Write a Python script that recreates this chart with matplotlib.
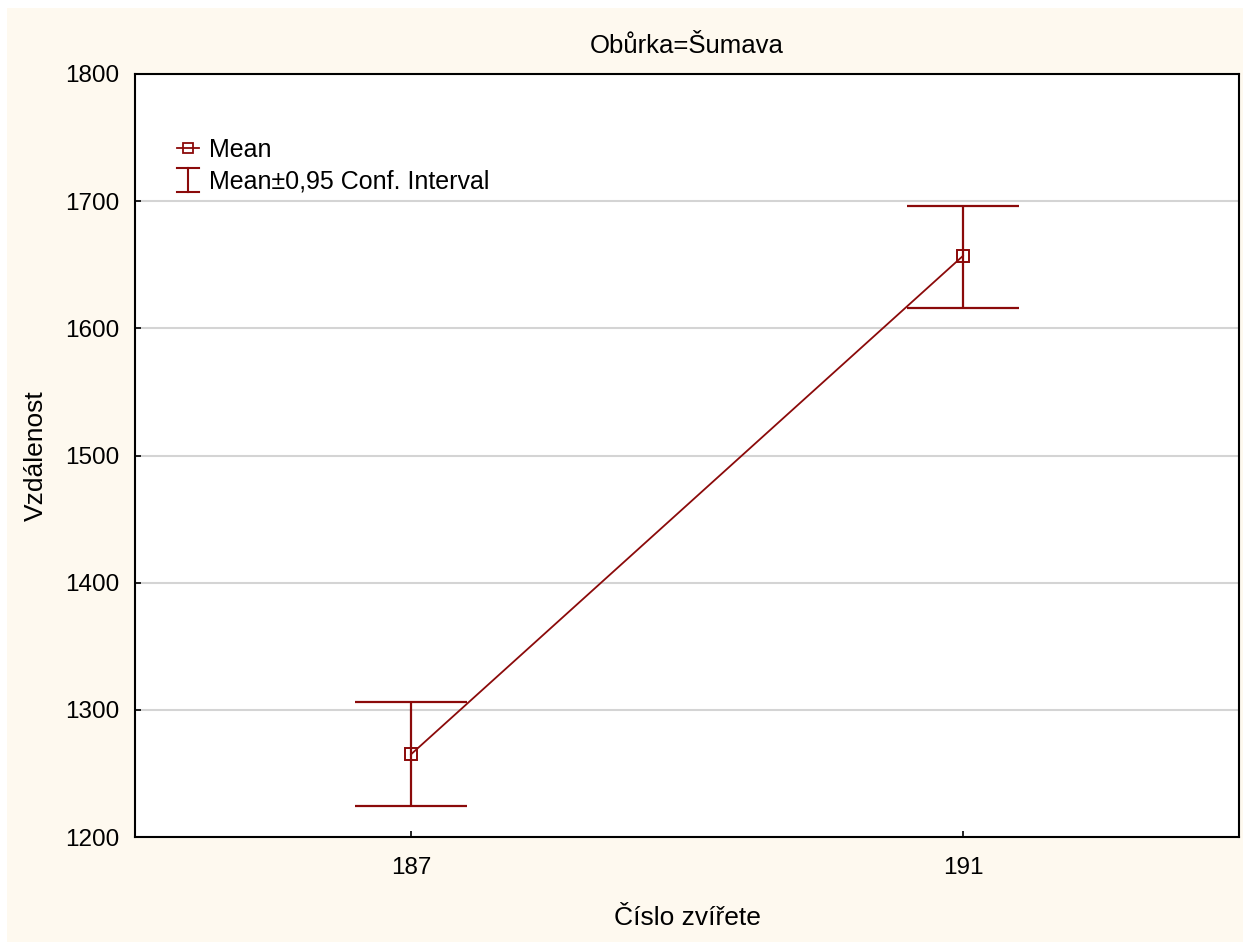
import matplotlib.pyplot as plt
from matplotlib.patches import Rectangle
from matplotlib.lines import Line2D
from matplotlib.legend_handler import HandlerBase

# data
animals = ["187", "191"]
means = [1265, 1657]
ci_low = [1224, 1616]
ci_high = [1306, 1696]

plt.rcParams['font.family'] = ['Liberation Sans', 'DejaVu Sans']
darkred = '#8b0a0a'


class HandlerIBeam(HandlerBase):
    # draws the little "I" symbol used for the confidence interval entry
    def create_artists(self, legend, orig_handle, xdescent, ydescent, width, height, fontsize, trans):
        x0, x1 = -xdescent, -xdescent + width
        xm = (x0 + x1) / 2
        y0, y1 = -ydescent - 0.2 * height, -ydescent + 1.2 * height
        kw = dict(color=darkred, lw=1.5, transform=trans)
        return [Line2D([xm, xm], [y0, y1], **kw),
                Line2D([x0, x1], [y0, y0], **kw),
                Line2D([x0, x1], [y1, y1], **kw)]


fig = plt.figure(figsize=(12.43, 9.42), dpi=100, facecolor='white')
fig.patches.append(Rectangle((7 / 1243, 0), 1, 1 - 8 / 942, transform=fig.transFigure,
                             facecolor='#fef9ef', edgecolor='none', zorder=-10))
ax = fig.add_axes([135 / 1243, 1 - 837 / 942, (1239 - 135) / 1243, (837 - 74) / 942])
ax.set_facecolor('white')

xs = list(range(len(animals)))
yerr = [[m - lo for m, lo in zip(means, ci_low)], [hi - m for m, hi in zip(means, ci_high)]]

ax.errorbar(xs, means, yerr=yerr, fmt='none', ecolor=darkred, elinewidth=1.6,
            capsize=40, capthick=1.6, zorder=3)
ax.plot(xs, means, color=darkred, lw=1.3, marker='s', markersize=9,
        markerfacecolor='none', markeredgecolor=darkred, markeredgewidth=1.4, zorder=4)

# legend proxies
mean_handle = Line2D([], [], color=darkred, lw=1.3, marker='s', markersize=6.5,
                     markerfacecolor='none', markeredgewidth=1.3, label='Mean')
ci_handle = Line2D([], [], color=darkred, label='Mean\u00b10,95 Conf. Interval')
ax.legend(handles=[mean_handle, ci_handle], handler_map={ci_handle: HandlerIBeam()},
          loc='upper left', bbox_to_anchor=(0.038, 0.916), borderaxespad=0, borderpad=0,
          frameon=False, fontsize=18, handlelength=0.9, handletextpad=0.4, labelspacing=0.3)

ax.set_xlim(-0.5, 1.5)
ax.set_ylim(1200, 1800)
ax.set_xticks(xs)
ax.set_xticklabels(animals)
ax.set_yticks(range(1200, 1801, 100))
ax.yaxis.grid(True, color='#d4d4d4', lw=1.5)
ax.set_axisbelow(True)
for s in ax.spines.values():
    s.set_linewidth(1.5)
    s.set_color('black')
ax.tick_params(axis='both', labelsize=17.5, length=4, width=1.2, direction='in')
ax.tick_params(axis='y', pad=11)
ax.tick_params(axis='x', pad=14.5)

ax.set_title('Ob\u016frka=\u0160umava', fontsize=18.5, pad=15)
ax.set_xlabel('\u010c\u00edslo zv\u00ed\u0159ete', fontsize=19, labelpad=19)
ax.set_ylabel('Vzd\u00e1lenost', fontsize=19, labelpad=13)

fig.savefig('out.png', dpi=100, facecolor=fig.get_facecolor())
